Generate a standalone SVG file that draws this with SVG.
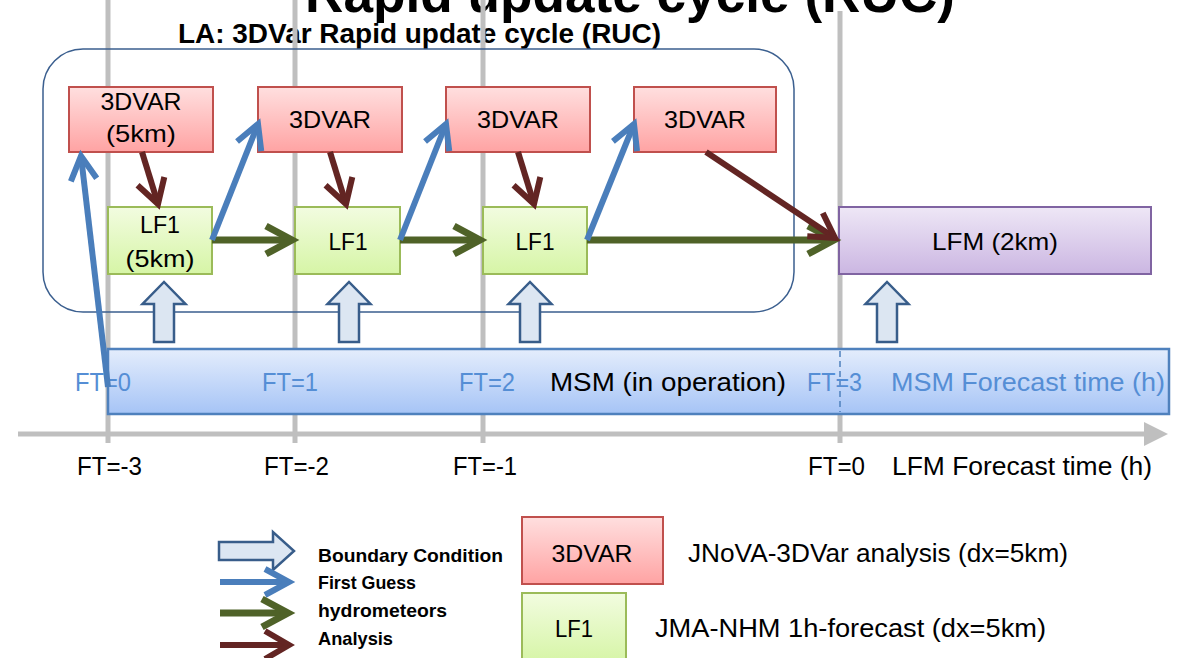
<svg xmlns="http://www.w3.org/2000/svg" width="1180" height="658" viewBox="0 0 1180 658">
<style>
text{font-family:"Liberation Sans",Arial,sans-serif;}
.t{font-size:24px;fill:#000;text-anchor:middle;}
.ft{font-size:25px;fill:#558ed5;}
.ax{font-size:25px;fill:#000;}
.lg{font-size:19px;font-weight:bold;fill:#000;}
.grid{stroke:#bfbfbf;stroke-width:5;fill:none;}
.b3d{fill:url(#gRed);stroke:#c0504d;stroke-width:2;}
.blf{fill:url(#gGreen);stroke:#9bbb59;stroke-width:2;}
.blfm{fill:url(#gPurple);stroke:#8064a2;stroke-width:2;}
.bc{fill:#dce6f2;stroke:#385d8a;stroke-width:2.5;}
.fg{stroke:#4a7ebb;stroke-width:6;fill:none;marker-end:url(#mBlue);}
.hy{stroke:#4f6228;stroke-width:7;fill:none;marker-end:url(#mGreen);}
.an{stroke:#632523;stroke-width:6;fill:none;marker-end:url(#mBrown);}
</style>
<defs>
<linearGradient id="gRed" x1="0" y1="0" x2="0" y2="1"><stop offset="0" stop-color="#ffdfdf"/><stop offset="1" stop-color="#ffa3a3"/></linearGradient>
<linearGradient id="gGreen" x1="0" y1="0" x2="0" y2="1"><stop offset="0" stop-color="#f2fce0"/><stop offset="1" stop-color="#d6f5a6"/></linearGradient>
<linearGradient id="gPurple" x1="0" y1="0" x2="0" y2="1"><stop offset="0" stop-color="#eee7f6"/><stop offset="1" stop-color="#cbb6e2"/></linearGradient>
<linearGradient id="gBlue" x1="0" y1="0" x2="0" y2="1"><stop offset="0" stop-color="#e4edfc"/><stop offset="1" stop-color="#a6c4f6"/></linearGradient>
<marker id="mBlue" markerUnits="userSpaceOnUse" viewBox="-34 -22 44 44" markerWidth="44" markerHeight="44" refX="0" refY="0" orient="auto"><path d="M-24,-13 L0,0 L-24,13" fill="none" stroke="#4a7ebb" stroke-width="6"/></marker>
<marker id="mGreen" markerUnits="userSpaceOnUse" viewBox="-34 -22 44 44" markerWidth="44" markerHeight="44" refX="0" refY="0" orient="auto"><path d="M-26,-14 L0,0 L-26,14" fill="none" stroke="#4f6228" stroke-width="7"/></marker>
<marker id="mBrown" markerUnits="userSpaceOnUse" viewBox="-34 -22 44 44" markerWidth="44" markerHeight="44" refX="0" refY="0" orient="auto"><path d="M-24,-14 L0,0 L-24,14" fill="none" stroke="#632523" stroke-width="6"/></marker>
<path id="upArrow" d="M-10,342 L-10,304 L-21.5,304 L0,282 L21.5,304 L10,304 L10,342 Z"/>
</defs>

<g id="title">
<text x="630" y="12" font-size="53" font-weight="bold" text-anchor="middle" textLength="650" lengthAdjust="spacingAndGlyphs">Rapid update cycle (RUC)</text>
<text x="178" y="43" font-size="27" font-weight="bold" textLength="483" lengthAdjust="spacingAndGlyphs">LA: 3DVar Rapid update cycle (RUC)</text>
</g>

<g id="time-axis">
<line class="grid" x1="108" y1="0" x2="108" y2="443"/>
<line class="grid" x1="295" y1="0" x2="295" y2="443"/>
<line class="grid" x1="483" y1="0" x2="483" y2="443"/>
<line class="grid" x1="840" y1="11" x2="840" y2="443"/>
<line class="grid" x1="18" y1="434" x2="1146" y2="434"/>
<path d="M1144,422 L1168,434 L1144,446 Z" fill="#bfbfbf"/>
<text class="ax" x="77" y="475" textLength="65" lengthAdjust="spacingAndGlyphs">FT=-3</text>
<text class="ax" x="264" y="475" textLength="65" lengthAdjust="spacingAndGlyphs">FT=-2</text>
<text class="ax" x="453" y="475" textLength="64" lengthAdjust="spacingAndGlyphs">FT=-1</text>
<text class="ax" x="808" y="475" textLength="57" lengthAdjust="spacingAndGlyphs">FT=0</text>
<text class="ax" x="892" y="475" textLength="260" lengthAdjust="spacingAndGlyphs">LFM Forecast time (h)</text>
</g>

<g id="LA-frame">
<rect x="43" y="49" width="751" height="263" rx="40" ry="40" fill="none" stroke="#3b5f8f" stroke-width="1.5"/>
</g>

<g id="MSM">
<rect x="108" y="349" width="1061" height="65" fill="url(#gBlue)" stroke="#4f81bd" stroke-width="2.5"/>
<line x1="840" y1="351" x2="840" y2="412" stroke="#4f81bd" stroke-width="1.5" stroke-dasharray="6,4"/>
<text class="ft" x="75" y="391" textLength="56" lengthAdjust="spacingAndGlyphs">FT=0</text>
<text class="ft" x="262" y="391" textLength="56" lengthAdjust="spacingAndGlyphs">FT=1</text>
<text class="ft" x="459" y="391" textLength="56" lengthAdjust="spacingAndGlyphs">FT=2</text>
<text x="550" y="391" font-size="25" fill="#000" textLength="236" lengthAdjust="spacingAndGlyphs">MSM (in operation)</text>
<text class="ft" x="807" y="391" textLength="55" lengthAdjust="spacingAndGlyphs">FT=3</text>
<text class="ft" x="891" y="391" textLength="274" lengthAdjust="spacingAndGlyphs">MSM Forecast time (h)</text>
</g>

<g id="var1"><rect class="b3d" x="69" y="87" width="144" height="65"/><text class="t" x="141" y="110" textLength="81" lengthAdjust="spacingAndGlyphs">3DVAR</text><text class="t" x="141" y="142" textLength="70" lengthAdjust="spacingAndGlyphs">(5km)</text></g>
<g id="var2"><rect class="b3d" x="258" y="87" width="144" height="65"/><text class="t" x="330" y="128" textLength="82" lengthAdjust="spacingAndGlyphs">3DVAR</text></g>
<g id="var3"><rect class="b3d" x="446" y="87" width="144" height="65"/><text class="t" x="518" y="128" textLength="82" lengthAdjust="spacingAndGlyphs">3DVAR</text></g>
<g id="var4"><rect class="b3d" x="634" y="87" width="142" height="65"/><text class="t" x="705" y="128" textLength="82" lengthAdjust="spacingAndGlyphs">3DVAR</text></g>

<g id="lf1a"><rect class="blf" x="108" y="207" width="104" height="67"/><text class="t" x="160" y="233" textLength="40" lengthAdjust="spacingAndGlyphs">LF1</text><text class="t" x="160" y="267" textLength="69" lengthAdjust="spacingAndGlyphs">(5km)</text></g>
<g id="lf1b"><rect class="blf" x="295" y="207" width="105" height="67"/><text class="t" x="348" y="250" textLength="39" lengthAdjust="spacingAndGlyphs">LF1</text></g>
<g id="lf1c"><rect class="blf" x="483" y="207" width="104" height="67"/><text class="t" x="535" y="250" textLength="39" lengthAdjust="spacingAndGlyphs">LF1</text></g>
<g id="lfm"><rect class="blfm" x="839" y="207" width="312" height="67"/><text class="t" x="995" y="250" textLength="126" lengthAdjust="spacingAndGlyphs">LFM (2km)</text></g>

<g id="boundary-arrows">
<use href="#upArrow" class="bc" transform="translate(164,0)"/>
<use href="#upArrow" class="bc" transform="translate(349,0)"/>
<use href="#upArrow" class="bc" transform="translate(530,0)"/>
<use href="#upArrow" class="bc" transform="translate(887,0)"/>
</g>

<g id="connectors">
<line class="hy" x1="212" y1="240" x2="292" y2="240"/>
<line class="hy" x1="400" y1="240" x2="480" y2="240"/>
<line class="hy" x1="587" y1="240" x2="834" y2="240"/>
<line class="an" x1="142" y1="152" x2="158" y2="204"/>
<line class="an" x1="330" y1="152" x2="346" y2="204"/>
<line class="an" x1="518" y1="152" x2="534" y2="204"/>
<line class="an" x1="706" y1="152" x2="835" y2="238"/>
<line class="fg" x1="108" y1="387" x2="81" y2="156"/>
<line class="fg" x1="212" y1="240" x2="258" y2="124"/>
<line class="fg" x1="400" y1="240" x2="446" y2="124"/>
<line class="fg" x1="587" y1="240" x2="634" y2="124"/>
</g>

<g id="legend">
<path class="bc" d="M219,542 L273,542 L273,532 L294,551 L273,570 L273,560 L219,560 Z"/>
<line class="fg" x1="220" y1="582" x2="289" y2="582"/>
<line class="hy" x1="220" y1="613" x2="288" y2="613"/>
<line class="an" x1="220" y1="645" x2="289" y2="645"/>
<text class="lg" x="318" y="562" textLength="185" lengthAdjust="spacingAndGlyphs">Boundary Condition</text>
<text class="lg" x="318" y="589" textLength="98" lengthAdjust="spacingAndGlyphs">First Guess</text>
<text class="lg" x="318" y="617" textLength="129" lengthAdjust="spacingAndGlyphs">hydrometeors</text>
<text class="lg" x="318" y="645" textLength="75" lengthAdjust="spacingAndGlyphs">Analysis</text>
<g id="legend-3dvar"><rect class="b3d" x="522" y="517" width="141" height="67"/><text class="t" x="592" y="562" textLength="81" lengthAdjust="spacingAndGlyphs">3DVAR</text></g>
<g id="legend-lf1"><rect class="blf" x="522" y="593" width="104" height="70"/><text class="t" x="574" y="637" textLength="38" lengthAdjust="spacingAndGlyphs">LF1</text></g>
<text x="688" y="562" font-size="25" fill="#000" textLength="380" lengthAdjust="spacingAndGlyphs">JNoVA-3DVar analysis (dx=5km)</text>
<text x="655" y="637" font-size="25" fill="#000" textLength="391" lengthAdjust="spacingAndGlyphs">JMA-NHM 1h-forecast (dx=5km)</text>
</g>
</svg>
